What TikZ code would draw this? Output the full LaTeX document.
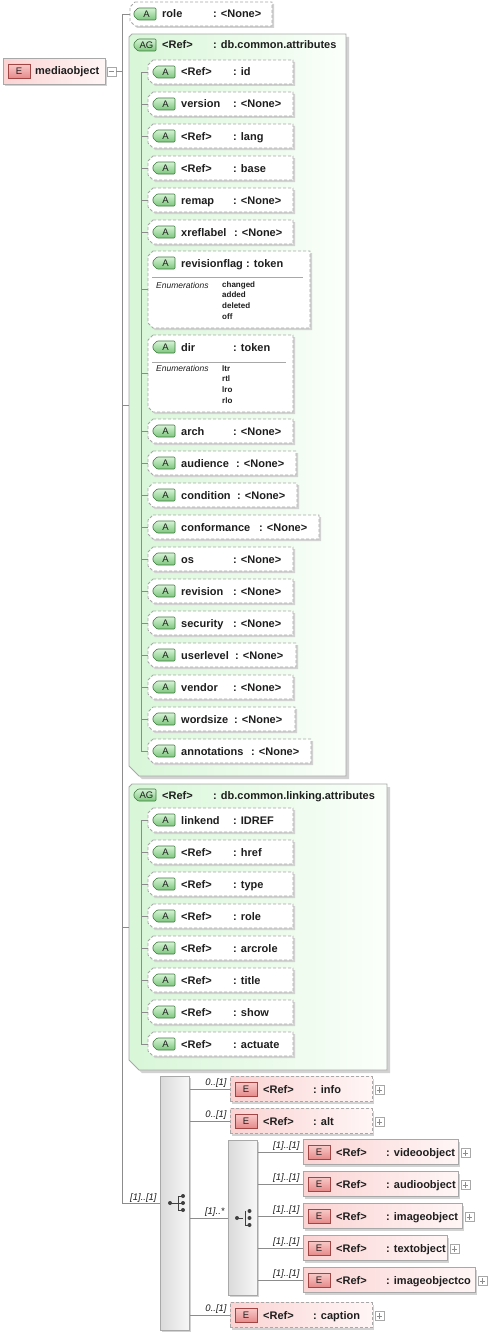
\documentclass[tikz,border=0pt]{standalone}
\usepackage{fontspec}
\setmainfont{Liberation Sans}
\usetikzlibrary{fit,shadows}

\definecolor{cConn}{HTML}{8C8C8C}
\definecolor{cFrame}{HTML}{A8A8A8}
\definecolor{cShad}{HTML}{D2D2D2}
\definecolor{cAgL}{HTML}{D8F6D8}
\definecolor{cAgR}{HTML}{FBFFFB}
\definecolor{cAT}{HTML}{D6F3D6}
\definecolor{cAB}{HTML}{7CC67C}
\definecolor{cAD}{HTML}{3E7A3E}
\definecolor{cEL}{HTML}{FBD3D3}
\definecolor{cER}{HTML}{FFF6F6}
\definecolor{cEbT}{HTML}{F9CACA}
\definecolor{cEbB}{HTML}{E68A8A}
\definecolor{cEbD}{HTML}{A04444}
\definecolor{cSqL}{HTML}{DADADA}
\definecolor{cSqR}{HTML}{F7F7F7}
\definecolor{cTxt}{HTML}{1E1E1E}
\definecolor{cIcon}{HTML}{404040}

\tikzset{
 conn/.style={draw=cConn, line width=0.8pt},
 lbl/.style={anchor=base west, inner sep=0pt, text=cTxt, font=\bfseries\fontsize{11}{13}\selectfont},
 card/.style={inner sep=1pt, text=cTxt, font=\itshape\fontsize{9.5}{11}\selectfont},
 enumh/.style={anchor=base west, inner sep=0pt, text=cTxt, font=\itshape\fontsize{8.5}{10}\selectfont},
 enumv/.style={anchor=base west, inner sep=0pt, text=cTxt, font=\bfseries\fontsize{8}{9}\selectfont},
 btxt/.style={inner sep=0pt, text=cTxt, font=\fontsize{9.5}{11}\selectfont},
 attrframe/.style={draw=cFrame, dash pattern=on 3pt off 2pt, fill=white, line width=0.8pt},
 shadowfill/.style={fill=cShad},
 agframe/.style={draw=cFrame, left color=cAgL, right color=cAgR, line width=0.8pt},
 abadgest/.style={draw=cAD, top color=cAT, bottom color=cAB, line width=0.6pt, rounded corners=1pt},
 ebadgest/.style={draw=cEbD, top color=cEbT, bottom color=cEbB, line width=0.6pt},
 ebox/.style={rectangle, inner sep=0pt, draw=cFrame, left color=cEL, right color=cER, line width=0.8pt, general shadow={fill=cShad, shadow xshift=2pt, shadow yshift=-2pt}},
 eopt/.style={dash pattern=on 3pt off 2pt},
 seqbox/.style={rectangle, inner sep=0pt, draw=cFrame, left color=cSqL, right color=cSqR, line width=0.8pt, general shadow={fill=cShad, shadow xshift=2pt, shadow yshift=-2pt}},
 pbox/.style={rectangle, inner sep=0pt, minimum size=9pt, draw=cFrame, fill=white, line width=0.6pt},
 sep/.style={draw=cFrame, line width=0.6pt},
 icon/.style={draw=cIcon, line width=0.8pt},
}

% chamfered box path: style, x0,y0,x1,y1
\newcommand\chamf[5]{\path[#1] (#2+5,#3) -- (#4,#3) -- (#4,#5) -- (#2+5,#5) -- (#2,#5-5) -- (#2,#3+5) -- cycle;}
% attribute box: name, x0,y0,x1,y1
\newcommand\attrbox[5]{%
 \chamf{shadowfill}{#2+2}{#3+2}{#4+2}{#5+2}
 \chamf{attrframe}{#2}{#3}{#4}{#5}
 \node[inner sep=0pt, fit={(#2,#3) (#4,#5)}] (#1) {};}
% green badge: name, x, cy, text
\newcommand\abadge[4]{%
 \path[abadgest] (#2+4,#3-6) -- (#2+22,#3-6) -- (#2+22,#3+6) -- (#2+4,#3+6) -- (#2,#3+2) -- (#2,#3-2) -- cycle;
 \node[btxt] (#1) at (#2+12.5,#3) {#4};}
% red badge: name, x, cy
\newcommand\ebadge[3]{%
 \path[ebadgest] (#2,#3-7) rectangle (#2+22,#3+7);
 \node[btxt] (#1) at (#2+11,#3) {E};}
% attribute: name, cy, label, type, colon x, right x
\newcommand\attr[6]{%
 \attrbox{#1}{148}{#2-12}{#6}{#2+12}
 \abadge{#1-b}{153}{#2}{A}
 \node[lbl] (#1-l) at (181,#2+4) {#3};
 \node[lbl] (#1-t) at (#5,#2+4) {: #4};}
% attribute group box: name, x0,y0,x1,y1
\newcommand\agbox[5]{%
 \path[shadowfill] (#2+6,#3+3) -- (#4+3,#3+3) -- (#4+3,#5+3) -- (#2+13,#5+3) -- (#2+3,#5-7) -- (#2+3,#3+6) -- cycle;
 \path[agframe] (#2+3,#3) -- (#4,#3) -- (#4,#5) -- (#2+10,#5) -- (#2,#5-10) -- (#2,#3+3) -- cycle;
 \node[inner sep=0pt, fit={(#2,#3) (#4,#5)}] (#1) {};}
% plus box: name, x, y
\newcommand\plusbox[3]{%
 \node[pbox] (#1) at (#2,#3) {};
 \draw[cConn, line width=0.6pt] ([xshift=2pt]#1.west) -- ([xshift=-2pt]#1.east) ([yshift=2pt]#1.south) -- ([yshift=-2pt]#1.north);}
% element: [style], name, x0, cy, x1, label, type, colon x
\newcommand\elem[8][]{%
 \node[ebox,#1, minimum width={#5-#3}, minimum height=25, anchor=west] (#2) at (#3,#4) {};
 \ebadge{#2-b}{#3+5}{#4}
 \node[lbl] (#2-l) at (#3+33,#4+4) {#6};
 \node[lbl] (#2-t) at (#8,#4+4) {: #7};
 \plusbox{#2-p}{#5+7.5}{#4+1}}

\begin{document}
\begin{tikzpicture}[x=1pt,y=-1pt]
\useasboundingbox (0,0) rectangle (490,1335);
\coordinate (trunk) at (122,0);
\coordinate (bus) at (141,0);

% root element
\node[ebox, minimum width=102, minimum height=26, anchor=north west] (root) at (3,58) {};
\ebadge{root-b}{8}{71}
\node[lbl] (root-l) at (35,75) {mediaobject};
\node[pbox] (root-m) at (111.5,71.5) {};
\draw[cConn, line width=0.6pt] ([xshift=2pt]root-m.west) -- ([xshift=-2pt]root-m.east);

% role attribute
\attrbox{role}{130}{2}{272}{26}
\abadge{role-b}{134}{14}{A}
\node[lbl] (role-l) at (162,18) {role};
\node[lbl] (role-t) at (213,18) {: <None>};

% attribute group 1
\agbox{ag1}{129}{34}{346}{776}
\abadge{ag1-b}{134}{45}{AG}
\node[lbl] (ag1-l) at (162,49) {<Ref>};
\node[lbl] (ag1-t) at (213,49) {: db.common.attributes};

\attr{id}{72}{<Ref>}{id}{233}{293}
\attr{version}{104}{version}{<None>}{233}{293}
\attr{lang}{136}{<Ref>}{lang}{233}{293}
\attr{base}{168}{<Ref>}{base}{233}{293}
\attr{remap}{200}{remap}{<None>}{233}{293}
\attr{xreflabel}{232}{xreflabel}{<None>}{234}{293}

\attrbox{revisionflag}{148}{251}{310}{328}
\abadge{revisionflag-b}{153}{263}{A}
\node[lbl] (revisionflag-l) at (181,267) {revisionflag};
\node[lbl] (revisionflag-t) at (246,267) {: token};
\draw[sep] (152,277) -- (303,277);
\node[enumh] (rf-h) at (156,288) {Enumerations};
\node[enumv] (rf-1) at (222,287) {changed};
\node[enumv] (rf-2) at (222,297) {added};
\node[enumv] (rf-3) at (222,308) {deleted};
\node[enumv] (rf-4) at (222,319) {off};

\attrbox{dir}{148}{335}{293}{412}
\abadge{dir-b}{153}{347}{A}
\node[lbl] (dir-l) at (181,351) {dir};
\node[lbl] (dir-t) at (233,351) {: token};
\draw[sep] (152,362) -- (286,362);
\node[enumh] (dir-h) at (156,371) {Enumerations};
\node[enumv] (dir-1) at (222,371) {ltr};
\node[enumv] (dir-2) at (222,381) {rtl};
\node[enumv] (dir-3) at (222,392) {lro};
\node[enumv] (dir-4) at (222,403) {rlo};

\attr{arch}{431}{arch}{<None>}{233}{293}
\attr{audience}{463}{audience}{<None>}{236}{296}
\attr{condition}{495}{condition}{<None>}{237}{297}
\attr{conformance}{527}{conformance}{<None>}{259}{319}
\attr{os}{559}{os}{<None>}{233}{293}
\attr{revision}{591}{revision}{<None>}{233}{293}
\attr{security}{623}{security}{<None>}{233}{293}
\attr{userlevel}{655}{userlevel}{<None>}{235}{296}
\attr{vendor}{687}{vendor}{<None>}{233}{293}
\attr{wordsize}{719}{wordsize}{<None>}{234}{295}
\attr{annotations}{751}{annotations}{<None>}{251}{311}

\draw[conn] (id.west -| bus) -- (annotations.west -| bus);
\foreach \n in {id,version,lang,base,remap,xreflabel,revisionflag,dir,arch,audience,condition,conformance,os,revision,security,userlevel,vendor,wordsize,annotations}
  \draw[conn] (\n.west -| bus) -- (\n.west);

% attribute group 2
\agbox{ag2}{129}{784}{387}{1070}
\abadge{ag2-b}{134}{795}{AG}
\node[lbl] (ag2-l) at (162,799) {<Ref>};
\node[lbl] (ag2-t) at (213,799) {: db.common.linking.attributes};

\attr{lk-linkend}{820}{linkend}{IDREF}{233}{293}
\attr{lk-href}{852}{<Ref>}{href}{233}{293}
\attr{lk-type}{884}{<Ref>}{type}{233}{293}
\attr{lk-role}{916}{<Ref>}{role}{233}{293}
\attr{lk-arcrole}{948}{<Ref>}{arcrole}{233}{293}
\attr{lk-title}{980}{<Ref>}{title}{233}{293}
\attr{lk-show}{1012}{<Ref>}{show}{233}{293}
\attr{lk-actuate}{1044}{<Ref>}{actuate}{233}{293}

\draw[conn] (lk-linkend.west -| bus) -- (lk-actuate.west -| bus);
\foreach \n in {linkend,href,type,role,arcrole,title,show,actuate}
  \draw[conn] (lk-\n.west -| bus) -- (lk-\n.west);

% sequence compositor
\node[seqbox, minimum width=29, minimum height=254, anchor=north west] (seq) at (160,1076) {};
\draw[icon] (170,1203) -- (178,1203) (178,1196) -- (178,1210) (178,1196) -- (183,1196) (178,1210) -- (183,1210) (178,1203) -- (183,1203);
\fill[cIcon] (170,1203) circle (2pt) (183,1196) circle (2pt) (183,1203) circle (2pt) (183,1210) circle (2pt);

% choice compositor
\node[seqbox, minimum width=29, minimum height=155, anchor=north west] (choice) at (228,1140) {};
\draw[icon] (237,1218) -- (243,1218) (245,1211) -- (245,1225) (245,1225) -- (249,1225);
\fill[cIcon] (237,1218) circle (2pt) (249.5,1211) circle (2pt) (249.5,1218) circle (2pt) (249.5,1225) circle (2pt);

% elements
\elem[eopt]{info}{230}{1089}{372}{<Ref>}{info}{313}
\elem[eopt]{alt}{230}{1121}{372}{<Ref>}{alt}{313}
\elem[eopt]{caption}{230}{1315}{372}{<Ref>}{caption}{313}
\elem{video}{303}{1152}{458}{<Ref>}{videoobject}{386}
\elem{audio}{303}{1184}{458}{<Ref>}{audioobject}{386}
\elem{image}{303}{1216}{462}{<Ref>}{imageobject}{386}
\elem{txtobj}{303}{1248}{447}{<Ref>}{textobject}{386}
\elem{imageco}{303}{1280}{475}{<Ref>}{imageobjectco}{386}

% connectors
\draw[conn] (root-m.east) -- (root-m.east -| trunk);
\draw[conn] (role.west -| trunk) -- (seq.west -| trunk);
\draw[conn] (role.west -| trunk) -- (role.west);
\draw[conn] (ag1.west -| trunk) -- (ag1.west);
\draw[conn] (ag2.west -| trunk) -- (ag2.west);
\draw[conn] (seq.west -| trunk) -- node[card, pos=1, anchor=south east, xshift=-2pt] (c-seq) {[1]..[1]} (seq.west);
\draw[conn] (info.west -| seq.east) -- node[card, pos=1, anchor=south east, xshift=-2pt] (c-info) {0..[1]} (info.west);
\draw[conn] (alt.west -| seq.east) -- node[card, pos=1, anchor=south east, xshift=-2pt] (c-alt) {0..[1]} (alt.west);
\draw[conn] (choice.west -| seq.east) -- node[card, pos=1, anchor=south east, xshift=-2pt] (c-choice) {[1]..*} (choice.west);
\draw[conn] (caption.west -| seq.east) -- node[card, pos=1, anchor=south east, xshift=-2pt] (c-caption) {0..[1]} (caption.west);
\foreach \n in {video,audio,image,txtobj,imageco}
  \draw[conn] (\n.west -| choice.east) -- node[card, pos=1, anchor=south east, xshift=-2pt] (c-\n) {[1]..[1]} (\n.west);
\end{tikzpicture}
\end{document}
